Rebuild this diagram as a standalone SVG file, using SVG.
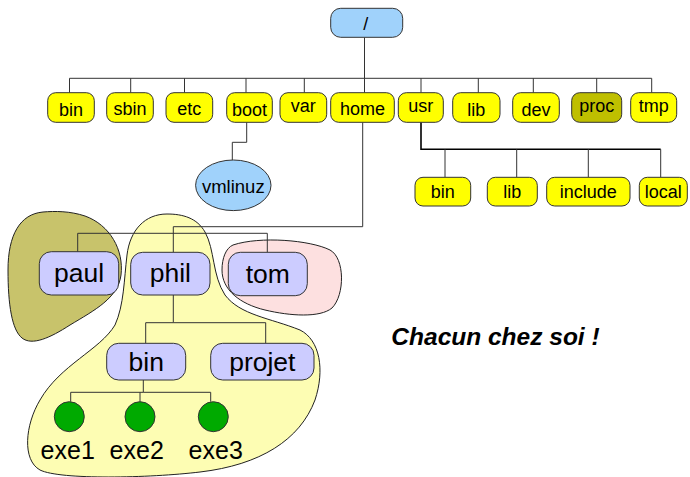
<svg xmlns="http://www.w3.org/2000/svg" width="690" height="477" viewBox="0 0 690 477">
<style>
text{font-family:"Liberation Sans",Arial,sans-serif;fill:#000;text-anchor:middle}
.t{font-size:18px}
.h{font-size:26.5px}
.x{font-size:25px}
.yb{fill:#ffff00;stroke:#333;stroke-width:1}
.pb{fill:#bfbf00;stroke:#333;stroke-width:1}
.bb{fill:#a0d2fb;stroke:#333;stroke-width:1}
.lb{fill:#ccccff;stroke:#333;stroke-width:1}
.gc{fill:#00aa00;stroke:#333;stroke-width:1}
.c{fill:none;stroke:#333;stroke-width:1}
.ck{fill:none;stroke:#000;stroke-width:1.6}
.blob{stroke:#222;stroke-width:1}
</style>
<g id="blobs">
<path id="blob-paul" class="blob" fill="#c8c36b" d="M 43 212 C 20 214 8 235 8 270 C 8 305 12 330 22 338 C 32 346 50 338 70 325 C 95 310 118 298 121 275 C 124 250 110 225 85 216 C 70 211 55 211 43 212 Z"/>
<path id="blob-phil" class="blob" fill="#fdfdb3" d="M 167 214 C 145 214 130 230 127 255 C 124 280 124 305 115 325 C 100 350 60 365 40 400 C 25 425 22 460 40 470 C 60 480 150 478 200 472 C 260 465 300 440 315 400 C 325 370 320 340 300 330 C 270 318 240 315 225 295 C 212 275 215 250 205 232 C 197 218 183 214 167 214 Z"/>
<path id="blob-tom" class="blob" fill="#fde0e0" d="M 233 245 C 260 236 310 240 330 250 C 345 258 345 295 332 308 C 320 318 290 316 265 310 C 240 304 222 290 222 270 C 222 258 226 248 233 245 Z"/>
</g>
<g id="connectors">
<path class="c" d="M 364.5 37.5 V 78.3 M 69.5 78.3 H 651.7 M 69.5 78.3 V 92.7 M 130.7 78.3 V 92.7 M 184.5 78.3 V 92.7 M 246 78.3 V 92.7 M 304.3 78.3 V 92.7 M 364.5 78.3 V 92.7 M 421 78.3 V 92.7 M 478.3 78.3 V 92.7 M 533.3 78.3 V 92.7 M 596.7 78.3 V 92.7 M 651.7 78.3 V 92.7"/>
<path class="c" d="M 246.7 122.3 V 142.3 H 232.3 V 160"/>
<path class="c" d="M 362.7 122.3 V 226.7 H 173.3 V 252.3"/>
<path class="c" d="M 77.7 251.7 V 233.3 H 267.3 V 252.3"/>
<path class="ck" d="M 421 122.3 V 149.3 H 660.7"/>
<path class="c" d="M 445 149.3 V 177.3 M 516.7 149.3 V 177.3 M 588.3 149.3 V 177.3 M 660.7 149.3 V 177.3"/>
<path class="c" d="M 173.3 295 V 322.7 H 145.7 V 343.3 M 173.3 322.7 H 265.7 V 343.3"/>
<path class="c" d="M 143.3 380 V 392.3 H 70.7 V 401.7 M 143.3 392.3 H 210.7 V 401.7 M 140 392.3 V 401.7"/>
</g>
<g id="root"><rect class="bb" x="330.7" y="8.3" width="72" height="29" rx="10"/><text class="t" x="365.7" y="30">/</text></g>
<g id="bin"><rect class="yb" x="47.7" y="92.7" width="46.6" height="29.6" rx="8"/><text class="t" x="71" y="115.5">bin</text></g>
<g id="sbin"><rect class="yb" x="106.7" y="92.7" width="46.6" height="29.6" rx="8"/><text class="t" x="130" y="115">sbin</text></g>
<g id="etc"><rect class="yb" x="166" y="92.7" width="46.7" height="29.6" rx="8"/><text class="t" x="189.3" y="114.5">etc</text></g>
<g id="boot"><rect class="yb" x="226.7" y="92.7" width="45.6" height="29.6" rx="8"/><text class="t" x="249.5" y="115.5">boot</text></g>
<g id="var"><rect class="yb" x="280" y="92.7" width="46.7" height="29.6" rx="8"/><text class="t" x="303.3" y="111.8">var</text></g>
<g id="home"><rect class="yb" x="330.7" y="92.7" width="63.6" height="29.6" rx="8"/><text class="t" x="362.5" y="115.3">home</text></g>
<g id="usr"><rect class="yb" x="398.3" y="92.7" width="45" height="29.6" rx="8"/><text class="t" x="420.8" y="112.3">usr</text></g>
<g id="lib"><rect class="yb" x="452.7" y="92.7" width="47.3" height="29.6" rx="8"/><text class="t" x="476.3" y="115.7">lib</text></g>
<g id="dev"><rect class="yb" x="512.7" y="92.7" width="46.6" height="29.6" rx="8"/><text class="t" x="536" y="115.7">dev</text></g>
<g id="proc"><rect class="pb" x="571.7" y="92.7" width="50" height="29.6" rx="8"/><text class="t" x="596.7" y="111.8">proc</text></g>
<g id="tmp"><rect class="yb" x="630.7" y="92.7" width="46" height="29.6" rx="8"/><text class="t" x="653.7" y="111.8">tmp</text></g>
<g id="vmlinuz"><ellipse class="bb" cx="233.3" cy="185.3" rx="37.7" ry="25.3"/><text style="font-size:18.5px" x="233.3" y="193.3">vmlinuz</text></g>
<g id="usr-bin"><rect class="yb" x="415" y="177.3" width="55.7" height="28.7" rx="8"/><text class="t" x="442.8" y="198.3">bin</text></g>
<g id="usr-lib"><rect class="yb" x="487.3" y="177.3" width="50" height="28.7" rx="8"/><text class="t" x="512.3" y="198.3">lib</text></g>
<g id="usr-include"><rect class="yb" x="546.7" y="177.3" width="83.3" height="28.7" rx="8"/><text class="t" x="588.3" y="198.3">include</text></g>
<g id="usr-local"><rect class="yb" x="639.3" y="177.3" width="48" height="28.7" rx="8"/><text class="t" x="663.3" y="198.3">local</text></g>
<g id="paul"><rect class="lb" x="39.3" y="251.7" width="79.4" height="43.3" rx="12"/><text class="h" x="79" y="282">paul</text></g>
<g id="phil"><rect class="lb" x="130.7" y="252.3" width="79.3" height="42.7" rx="12"/><text class="h" x="170.3" y="282">phil</text></g>
<g id="tom"><rect class="lb" x="228.3" y="252.3" width="79" height="43.4" rx="12"/><text class="h" x="267.8" y="282.5">tom</text></g>
<g id="phil-bin"><rect class="lb" x="106.7" y="343.3" width="79" height="36.7" rx="12"/><text class="h" x="146.2" y="370.5">bin</text></g>
<g id="projet"><rect class="lb" x="210.7" y="343.3" width="103.3" height="36.7" rx="12"/><text class="h" x="262.3" y="370.5">projet</text></g>
<g id="exe1"><circle class="gc" cx="69.3" cy="416.7" r="15"/><text class="x" x="67.7" y="458.5">exe1</text></g>
<g id="exe2"><circle class="gc" cx="140" cy="416.7" r="15"/><text class="x" x="136.7" y="458.5">exe2</text></g>
<g id="exe3"><circle class="gc" cx="213.3" cy="416.7" r="15"/><text class="x" x="215.7" y="458.5">exe3</text></g>
<text x="495.5" y="345" style="font-size:24.5px;font-weight:bold;font-style:italic">Chacun chez soi !</text>
</svg>
